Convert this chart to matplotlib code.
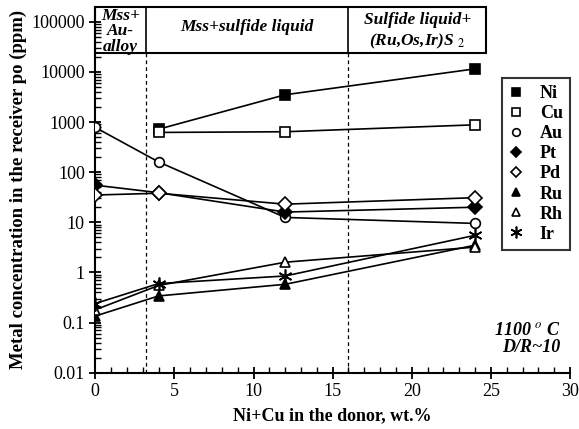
import matplotlib
matplotlib.use("Agg")
import matplotlib.pyplot as plt
from matplotlib.lines import Line2D
from matplotlib.patches import Rectangle
from matplotlib.ticker import LogLocator, MultipleLocator, FixedLocator, FixedFormatter

plt.rcParams['font.family'] = ['Liberation Serif', 'DejaVu Serif']
plt.rcParams['mathtext.fontset'] = 'stix'

# donor Ni+Cu (wt.%) and metal content in receiver po (ppm)
x_all = [0, 4, 12, 24]
x_nicu = [4, 12, 24]
ni = [720, 3500, 11500]
cu = [620, 640, 880]
au = [780, 160, 12.5, 9.5]
pt = [55, 39, 16, 20]
pd = [35, 38, 23, 31]
ru = [0.135, 0.34, 0.58, 3.5]
rh = [0.18, 0.55, 1.6, 3.2]
ir = [0.24, 0.6, 0.85, 5.5]

# phase field boundaries and header labels
bounds = [0, 3.2, 16, 24.7]
fields = ["Mss+\nAu-\nalloy", "Mss+sulfide liquid", "Sulfide liquid+\n(Ru,Os,Ir)S $_2$"]

series = [
    ("Ni", x_nicu, ni, 's', 'black'),
    ("Cu", x_nicu, cu, 's', 'white'),
    ("Au", x_all, au, 'o', 'white'),
    ("Pt", x_all, pt, 'D', 'black'),
    ("Pd", x_all, pd, 'D', 'white'),
    ("Ru", x_all, ru, '^', 'black'),
    ("Rh", x_all, rh, '^', 'white'),
    ("Ir", x_all, ir, (6, 2, 0), 'black'),
]

fig = plt.figure(figsize=(5.79, 4.29), dpi=100)
ax = fig.add_axes([0.1646, 0.1312, 0.8199, 0.8525])

ymin, ymax = 0.01, 1.97e5
box_bottom = 2.37e4

handles = []
for name, xs, ys, mk, fc in series:
    ms = 10 if mk == (6, 2, 0) else 7
    ax.plot(xs, ys, color='black', lw=1.2, marker=mk, ms=ms,
            mfc=fc, mec='black', mew=1.2, zorder=3)
    handles.append(Line2D([], [], ls='none', marker=mk, ms=ms - 1.5,
                          mfc=fc, mec='black', mew=1.2, color='black'))

# dashed field boundaries
for xb in bounds[1:3]:
    ax.plot([xb, xb], [ymin, box_bottom], ls=(0, (3, 2.5)), color='black', lw=0.9)
    ax.plot([xb, xb], [box_bottom, ymax], color='black', lw=1.2, clip_on=False)

ax.add_patch(Rectangle((bounds[0], box_bottom), bounds[3] - bounds[0], ymax - box_bottom,
                       fill=False, ec='black', lw=1.5, clip_on=False, zorder=4))

hdr = dict(fontsize=12.5, fontweight='bold', fontstyle='italic', ha='center', va='center')
ax.text((bounds[0] + bounds[1]) / 2, 6.4e4, fields[0], linespacing=0.92, **hdr)
ax.text((bounds[1] + bounds[2]) / 2, 7.8e4, fields[1], **hdr)
ax.text((bounds[2] + bounds[3]) / 2, 6.4e4, fields[2], linespacing=1.25, **hdr)

ax.text(29.4, 0.047, "1100 $^{\\mathbf{\\it o}}$ C\nD/R~10", fontsize=13, fontweight='bold',
        fontstyle='italic', ha='right', va='center', linespacing=1.05)

ax.set_yscale('log')
ax.set_xlim(0, 30)
ax.set_ylim(ymin, ymax)
ax.spines['top'].set_visible(False)
ax.spines['right'].set_visible(False)
ax.spines['left'].set_linewidth(1.5)
ax.spines['bottom'].set_linewidth(1.5)

yticks = [0.01, 0.1, 1, 10, 100, 1000, 10000, 100000]
ylabels = ["0.01", "0.1", "1", "10", "100", "1000", "10000", "100000"]
ax.yaxis.set_major_locator(FixedLocator(yticks))
ax.yaxis.set_major_formatter(FixedFormatter(ylabels))
ax.yaxis.set_minor_locator(LogLocator(base=10, subs=range(2, 10)))
ax.xaxis.set_major_locator(MultipleLocator(5))
ax.xaxis.set_minor_locator(MultipleLocator(1))
ax.tick_params(which='major', direction='inout', length=8, width=1.3, labelsize=13)
ax.tick_params(which='minor', direction='in', length=4, width=1.0)
ax.tick_params(axis='y', which='minor', labelleft=False)

ax.set_xlabel("Ni+Cu in the donor, wt.%", fontsize=13, fontweight='bold', labelpad=5)
ax.set_ylabel("Metal concentration in the receiver po (ppm)", fontsize=13.5,
              fontweight='bold', labelpad=3)

leg = ax.legend(handles, [s[0] for s in series], loc='upper right',
                bbox_to_anchor=(1.0, 0.806), borderaxespad=0, frameon=True, fancybox=False,
                edgecolor='black', handlelength=0.8, handletextpad=0.9,
                labelspacing=0.17, borderpad=0.4,
                prop={'weight': 'bold', 'size': 13})
leg.get_frame().set_linewidth(1.5)

fig.savefig("out.png", dpi=100)
